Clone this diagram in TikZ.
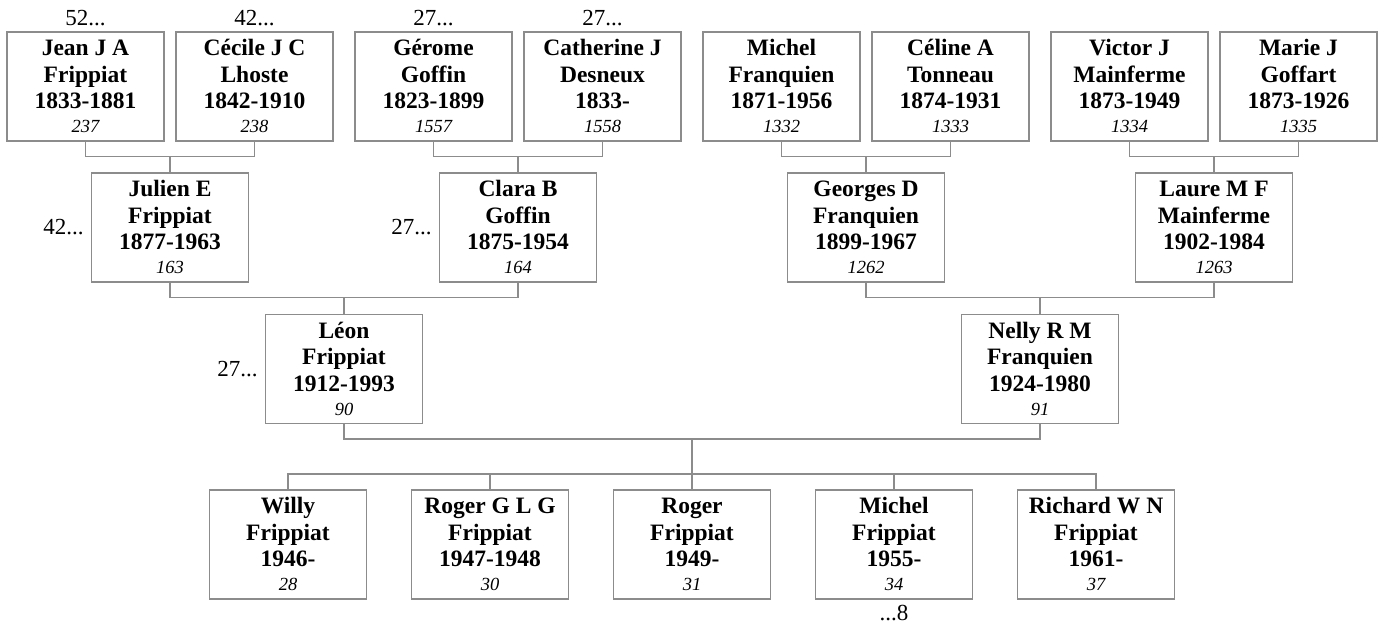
\documentclass[tikz,border=0pt]{standalone}
\usepackage{fontspec}
\setmainfont{Liberation Serif}
\definecolor{linecol}{RGB}{140,140,140}
\newcommand{\pcard}[4]{\raisebox{0pt}[16pt][0pt]{#1}\\#2\\#3\\[-2.5pt]{\fontsize{18.5}{20}\selectfont\mdseries\itshape #4}}
\tikzset{
  pbox/.style={draw=linecol, line width=1.3pt, minimum width=157pt, minimum height=109pt,
    inner sep=0pt, align=center, font=\bfseries\fontsize{23.5}{26.5}\selectfont},
  conn/.style={draw=linecol, line width=1.3pt},
  lab/.style={font=\fontsize{23}{26}\selectfont, inner sep=0pt, text=black}
}
\begin{document}
\begin{tikzpicture}[x=1pt,y=-1pt]
\useasboundingbox (0,0) rectangle (1382,628);
% generation 1
\node[pbox] (b1) at (85.5,86.5)  {\pcard{Jean J A}{Frippiat}{1833-1881}{237}};
\node[pbox] (b2) at (254.5,86.5) {\pcard{Cécile J C}{Lhoste}{1842-1910}{238}};
\node[pbox] (b3) at (433.5,86.5) {\pcard{Gérome}{Goffin}{1823-1899}{1557}};
\node[pbox] (b4) at (602.5,86.5) {\pcard{Catherine J}{Desneux}{1833-}{1558}};
\node[pbox] (b5) at (781.5,86.5) {\pcard{Michel}{Franquien}{1871-1956}{1332}};
\node[pbox] (b6) at (950.5,86.5) {\pcard{Céline A}{Tonneau}{1874-1931}{1333}};
\node[pbox] (b7) at (1129.5,86.5) {\pcard{Victor J}{Mainferme}{1873-1949}{1334}};
\node[pbox] (b8) at (1298.5,86.5) {\pcard{Marie J}{Goffart}{1873-1926}{1335}};
% generation 2
\node[pbox] (julien) at (170,227.5)  {\pcard{Julien E}{Frippiat}{1877-1963}{163}};
\node[pbox] (clara) at (518,227.5)   {\pcard{Clara B}{Goffin}{1875-1954}{164}};
\node[pbox] (georges) at (866,227.5) {\pcard{Georges D}{Franquien}{1899-1967}{1262}};
\node[pbox] (laure) at (1214,227.5)  {\pcard{Laure M F}{Mainferme}{1902-1984}{1263}};
% generation 3
\node[pbox] (leon) at (344,369)   {\pcard{Léon}{Frippiat}{1912-1993}{90}};
\node[pbox] (nelly) at (1040,369) {\pcard{Nelly R M}{Franquien}{1924-1980}{91}};
% children
\node[pbox] (c1) at (288,544.5)  {\pcard{Willy}{Frippiat}{1946-}{28}};
\node[pbox] (c2) at (490,544.5)  {\pcard{Roger G L G}{Frippiat}{1947-1948}{30}};
\node[pbox] (c3) at (692,544.5)  {\pcard{Roger}{Frippiat}{1949-}{31}};
\node[pbox] (c4) at (894,544.5)  {\pcard{Michel}{Frippiat}{1955-}{34}};
\node[pbox] (c5) at (1096,544.5) {\pcard{Richard W N}{Frippiat}{1961-}{37}};
% labels
\node[lab, anchor=base] (l1) at (85.5,26)  {52...};
\node[lab, anchor=base] (l2) at (254.5,26) {42...};
\node[lab, anchor=base] (l3) at (433.5,26) {27...};
\node[lab, anchor=base] (l4) at (602.5,26) {27...};
\node[lab, anchor=east] (l5) at ([xshift=-7pt]julien.west) {42...};
\node[lab, anchor=east] (l6) at ([xshift=-7pt]clara.west) {27...};
\node[lab, anchor=east] (l7) at ([xshift=-7pt]leon.west) {27...};
\node[lab, anchor=north] (l8) at ([yshift=-5pt]c4.south) {...8};
% connectors gen1 -> gen2
\draw[conn] (b1.south) -- (b1.south |- 0,156.5) -- (b2.south |- 0,156.5) -- (b2.south);
\draw[conn] (julien.north |- 0,156.5) -- (julien.north);
\draw[conn] (b3.south) -- (b3.south |- 0,156.5) -- (b4.south |- 0,156.5) -- (b4.south);
\draw[conn] (clara.north |- 0,156.5) -- (clara.north);
\draw[conn] (b5.south) -- (b5.south |- 0,156.5) -- (b6.south |- 0,156.5) -- (b6.south);
\draw[conn] (georges.north |- 0,156.5) -- (georges.north);
\draw[conn] (b7.south) -- (b7.south |- 0,156.5) -- (b8.south |- 0,156.5) -- (b8.south);
\draw[conn] (laure.north |- 0,156.5) -- (laure.north);
% gen2 -> gen3
\draw[conn] (julien.south) -- (julien.south |- 0,297.5) -- (clara.south |- 0,297.5) -- (clara.south);
\draw[conn] (leon.north |- 0,297.5) -- (leon.north);
\draw[conn] (georges.south) -- (georges.south |- 0,297.5) -- (laure.south |- 0,297.5) -- (laure.south);
\draw[conn] (nelly.north |- 0,297.5) -- (nelly.north);
% gen3 -> children
\draw[conn] (leon.south) -- (leon.south |- 0,439) -- (nelly.south |- 0,439) -- (nelly.south);
\draw[conn] (c3.north |- 0,439) -- (c3.north);
\draw[conn] (c1.north) -- (c1.north |- 0,474) -- (c5.north |- 0,474) -- (c5.north);
\draw[conn] (c2.north |- 0,474) -- (c2.north);
\draw[conn] (c4.north |- 0,474) -- (c4.north);
\end{tikzpicture}
\end{document}
